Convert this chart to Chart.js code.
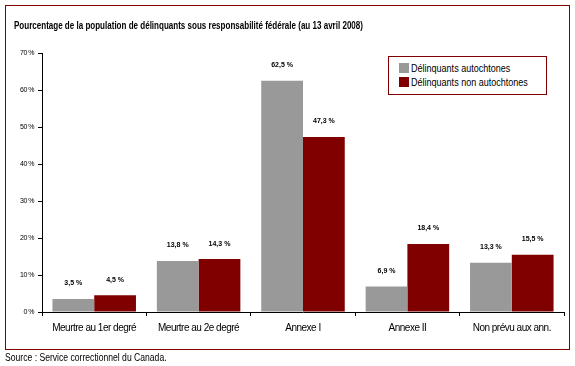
<!DOCTYPE html>
<html>
<head>
<meta charset="utf-8">
<script src="https://cdn.jsdelivr.net/npm/chart.js@4"></script>
<style>
  body { margin:0; background:#fff; }
  #wrap { position:relative; width:575px; height:366px; font-family:"Liberation Sans",Arial,sans-serif; }
  #frame { position:absolute; left:5px; top:5px; width:563px; height:343px; border:1px solid #800000; }
  #title { position:absolute; left:14px; top:19px; font-size:11px; font-weight:bold; color:#000; white-space:nowrap; transform:scaleX(0.73); transform-origin:left top; }
  #source { position:absolute; left:5px; top:352px; font-size:10px; color:#000; white-space:nowrap; transform:scaleX(0.86); transform-origin:left top; }
  #legend { position:absolute; left:388px; top:56px; width:157px; height:37px; border:1px solid #800000; background:#fff; font-size:11px; }
  .item { position:absolute; left:10px; height:12px; line-height:12px; white-space:nowrap; }
  .txt { display:inline-block; transform:scaleX(0.82); transform-origin:left center; }
  .sw { display:inline-block; width:10px; height:10px; margin-right:2px; vertical-align:-1px; }
  canvas { position:absolute; left:0; top:0; }
</style>
</head>
<body>
<div id="wrap">
  <div id="frame"></div>
  <canvas id="chart" width="575" height="366"></canvas>
  <div id="title">Pourcentage de la population de délinquants sous responsabilité fédérale (au 13 avril 2008)</div>
  <div id="legend"></div>
  <div id="source">Source : Service correctionnel du Canada.</div>
</div>
<script>
var categories = ["Meurtre au 1er degré", "Meurtre au 2e degré", "Annexe I", "Annexe II", "Non prévu aux ann."];
var seriesNames = ["Délinquants autochtones", "Délinquants non autochtones"];
var autochtones = [3.5, 13.8, 62.5, 6.9, 13.3];
var nonAutochtones = [4.5, 14.3, 47.3, 18.4, 15.5];
var seriesColors = ["#999999", "#800000"];

function pct(v){ return v.toFixed(1).replace(".", ",") + " %"; }

// legend box
var leg = document.getElementById("legend");
for (var i = 0; i < seriesNames.length; i++) {
  var d = document.createElement("div");
  d.className = "item";
  d.style.top = (5 + i*14) + "px";
  d.innerHTML = '<span class="sw" style="background:' + seriesColors[i] + '"></span><span class="txt">' + seriesNames[i] + '</span>';
  leg.appendChild(d);
}

// narrower x labels, like the condensed original
var squeeze = {
  id: "squeeze",
  beforeDraw: function(chart) { chart.ctx.letterSpacing = "-0.5px"; },
  afterDraw: function(chart) { chart.ctx.letterSpacing = "0px"; }
};

// value labels above bars
var barLabels = {
  id: "barLabels",
  afterDatasetsDraw: function(chart) {
    var ctx = chart.ctx;
    ctx.save();
    ctx.letterSpacing = "0px";
    ctx.font = "bold 7px 'Liberation Sans', Arial, sans-serif";
    ctx.fillStyle = "#000";
    ctx.textAlign = "center";
    ctx.textBaseline = "bottom";
    chart.data.datasets.forEach(function(ds, di) {
      chart.getDatasetMeta(di).data.forEach(function(bar, j) {
        ctx.fillText(pct(ds.data[j]), bar.x, bar.y - 12);
      });
    });
    ctx.restore();
  }
};

new Chart("chart", {
  type: "bar",
  data: {
    labels: categories,
    datasets: [
      { label: seriesNames[0], data: autochtones, backgroundColor: seriesColors[0] },
      { label: seriesNames[1], data: nonAutochtones, backgroundColor: seriesColors[1] }
    ]
  },
  options: {
    responsive: false,
    animation: false,
    layout: { padding: { top: 53, right: 11, bottom: 24, left: 0 } },
    datasets: { bar: { categoryPercentage: 0.8, barPercentage: 1.0 } },
    plugins: { legend: { display: false }, tooltip: { enabled: false } },
    scales: {
      x: {
        grid: { display: true, drawOnChartArea: false, drawTicks: true, tickLength: 4, color: "#000", offset: true },
        border: { color: "#000", width: 1 },
        ticks: { color: "#000", font: { family: "'Liberation Sans', Arial", size: 10 }, maxRotation: 0, padding: 6 },
        afterFit: function(s) { s.height = 30; }
      },
      y: {
        min: 0, max: 70,
        grid: { display: true, drawOnChartArea: false, drawTicks: true, tickLength: 4, color: "#000" },
        border: { color: "#000", width: 1 },
        ticks: { stepSize: 10, color: "#000", font: { family: "'Liberation Sans', Arial", size: 7 }, padding: 4,
          callback: function(v) { return v + " %"; } },
        afterFit: function(s) { s.width = 42; }
      }
    }
  },
  plugins: [squeeze, barLabels]
});
</script>
</body>
</html>
